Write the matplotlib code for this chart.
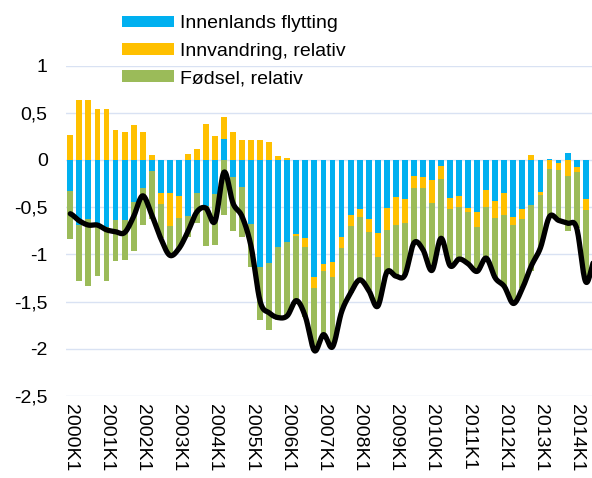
import matplotlib.pyplot as plt
import numpy as np

plt.rcParams['font.family'] = 'Liberation Sans'

# quarterly categories, 2000K1 .. 2014K3
quarters = [f'{y}K{q}' for y in range(2000, 2015) for q in range(1, 5)][:59]
year_labels = ['2000K1', '2001K1', '2002K1', '2003K1', '2004K1', '2005K1', '2006K1',
               '2007K1', '2008K1', '2009K1', '2010K1', '2011K1', '2012K1', '2013K1',
               '2014K1']

innenlands = [
    -0.325, -0.69, -0.63, -0.69, -0.707, -0.636, -0.636, -0.449, -0.30, -0.117,
    -0.353, -0.353, -0.38, -0.594, -0.346, -0.484, -0.36, 0.223, -0.184, -0.29,
    -0.682, -1.138, -1.09, -0.92, -0.866, -0.784, -0.83, -1.24, -1.10, -1.08,
    -0.815, -0.583, -0.52, -0.63, -0.77, -0.505, -0.39, -0.413, -0.17, -0.177,
    -0.212, -0.064, -0.406, -0.38, -0.51, -0.555, -0.32, -0.435, -0.346, -0.608,
    -0.516, -0.48, -0.335, 0.01, -0.028, 0.077, -0.075, -0.415, -0.12,
]
innvandring = [
    0.265, 0.636, 0.636, 0.54, 0.544, 0.318, 0.30, 0.371, 0.30, 0.05,
    -0.117, -0.347, -0.23, 0.06, 0.12, 0.385, 0.258, 0.229, 0.30, 0.212,
    0.212, 0.212, 0.187, 0.046, 0.025, -0.026, -0.096, -0.116, -0.08, -0.164,
    -0.121, -0.117, -0.08, -0.13, -0.255, -0.237, -0.30, -0.25, -0.123, -0.116,
    -0.248, -0.14, -0.117, -0.12, -0.045, -0.152, -0.175, -0.18, -0.241, -0.085,
    -0.113, 0.055, -0.035, -0.095, -0.078, -0.17, -0.05, -0.115, -0.40,
]
fodsel = [
    -0.512, -0.59, -0.70, -0.536, -0.58, -0.438, -0.428, -0.512, -0.386, -0.513,
    -0.36, -0.31, -0.33, -0.226, -0.324, -0.424, -0.538, -0.583, -0.569, -0.523,
    -0.448, -0.562, -0.71, -0.78, -0.80, -0.68, -0.734, -0.664, -0.67, -0.736,
    -0.674, -0.71, -0.67, -0.62, -0.525, -0.448, -0.54, -0.556, -0.587, -0.657,
    -0.71, -0.625, -0.597, -0.55, -0.545, -0.473, -0.545, -0.635, -0.753, -0.827,
    -0.731, -0.70, -0.56, -0.515, -0.53, -0.58, -0.60, -0.76, -0.53,
]
total = [
    -0.57, -0.645, -0.69, -0.69, -0.74, -0.76, -0.77, -0.60, -0.38, -0.58,
    -0.83, -1.01, -0.94, -0.76, -0.55, -0.51, -0.65, -0.13, -0.46, -0.60,
    -0.92, -1.50, -1.62, -1.67, -1.65, -1.49, -1.66, -2.02, -1.85, -1.98,
    -1.61, -1.41, -1.27, -1.38, -1.55, -1.19, -1.23, -1.22, -0.88, -0.95,
    -1.17, -0.83, -1.12, -1.05, -1.10, -1.18, -1.04, -1.25, -1.34, -1.52,
    -1.36, -1.12, -0.93, -0.60, -0.64, -0.67, -0.72, -1.29, -1.05,
]

series = [
    ('Innenlands flytting', innenlands, '#00B0F0'),
    ('Innvandring, relativ', innvandring, '#FFC000'),
    ('Fødsel, relativ', fodsel, '#9BBB59'),
]


def smooth_curve(y, steps=16):
    '''
    Catmull-Rom style smoothing, like Excel's smoothed line.
    '''
    y = np.asarray(y, dtype=float)
    pts = np.concatenate([[y[0]], y, [y[-1]]])
    xs, ys = [], []
    t = np.linspace(0, 1, steps, endpoint=False)
    for i in range(len(y) - 1):
        p0, p1, p2, p3 = pts[i], pts[i + 1], pts[i + 2], pts[i + 3]
        seg = 0.5 * (2 * p1 + (-p0 + p2) * t
                     + (2 * p0 - 5 * p1 + 4 * p2 - p3) * t ** 2
                     + (-p0 + 3 * p1 - 3 * p2 + p3) * t ** 3)
        xs.extend(i + t)
        ys.extend(seg)
    xs.append(len(y) - 1)
    ys.append(y[-1])
    return np.array(xs), np.array(ys)


fig = plt.figure(figsize=(5.92, 4.78), dpi=100)
ax = fig.add_axes([65.8 / 592, 82 / 478, (592 - 65.8) / 592, 330.5 / 478])

x = np.arange(len(quarters))
pos_bottom = np.zeros(len(x))
neg_bottom = np.zeros(len(x))
handles = []
for name, vals, color in series:
    v = np.array(vals)
    bottom = np.where(v >= 0, pos_bottom, neg_bottom)
    h = ax.bar(x, v, bottom=bottom, width=0.65, color=color, label=name, zorder=2)
    handles.append(h)
    pos_bottom += np.clip(v, 0, None)
    neg_bottom += np.clip(v, None, 0)

sx, sy = smooth_curve(total)
ax.plot(sx, sy, color='black', lw=3.8, solid_capstyle='round', zorder=3)

ax.set_xlim(-0.5, 57.7)
ax.set_ylim(-2.5, 1)
yt = np.arange(-2.5, 1.01, 0.5)
ax.set_yticks(yt)
ax.set_yticklabels([f'{v:g}'.replace('.', ',') for v in yt])
ax.set_xticks(x[::4])
ax.set_xticklabels(year_labels, rotation=270, va='top', ha='center')
ax.tick_params(axis='both', length=0, labelsize=14, colors='black')
ax.tick_params(axis='y', pad=13)
ax.tick_params(axis='x', pad=6)

ax.set_axisbelow(True)
ax.yaxis.grid(True, color='#D9E2F3', lw=1.0)
for s in ax.spines.values():
    s.set_visible(False)

ax.legend(handles=handles, loc='upper left', frameon=False, fontsize=14,
          bbox_to_anchor=(121.7 / 592, 1 - 15.5 / 478), bbox_transform=fig.transFigure,
          borderpad=0, borderaxespad=0, handlelength=2.67, handleheight=0.54,
          handletextpad=0.31, labelspacing=0.53)

fig.savefig('out.png', dpi=100)
